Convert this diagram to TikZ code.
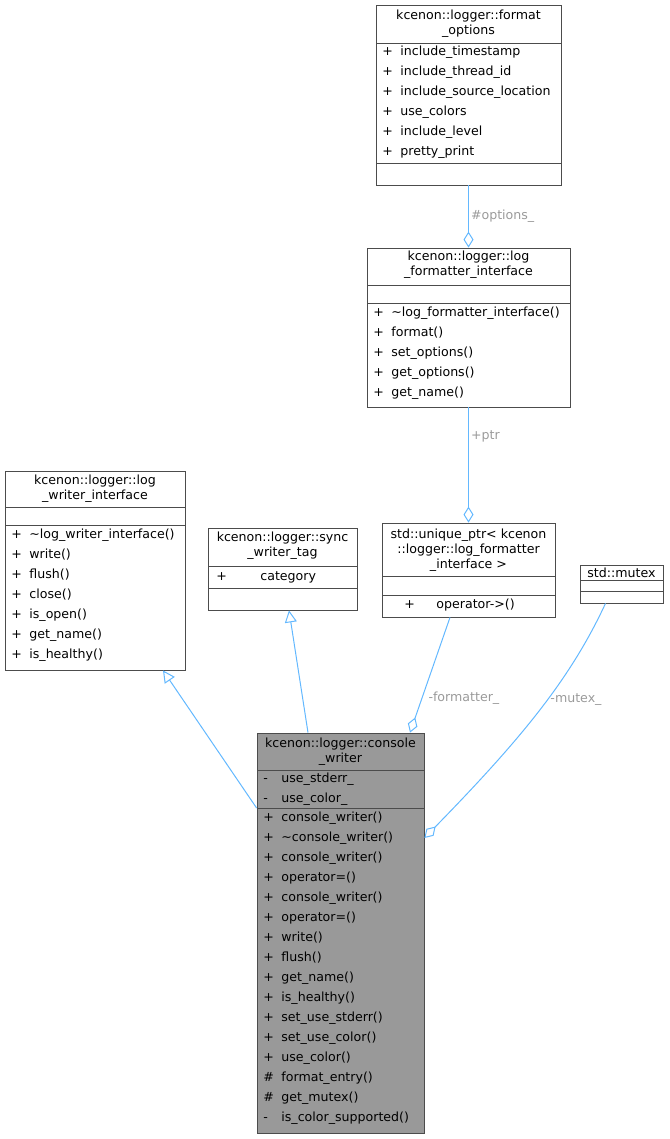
\documentclass[tikz,border=0pt]{standalone}
\usepackage{fontspec}
\setmainfont{DejaVu Sans}
\usetikzlibrary{arrows.meta}
\definecolor{edgeblue}{HTML}{63B8FF}
\definecolor{labelgray}{HTML}{9A9A9A}
\definecolor{classgray}{HTML}{999999}
\newcommand{\mbr}[2]{\makebox[9pt][l]{#1}#2}

\begin{document}
\begin{tikzpicture}[x=0.5pt,y=-0.5pt,
    font=\fontsize{6.3}{7.5}\selectfont,
    classbox/.style={rectangle, draw=black!70, line width=0.4pt, inner sep=0pt},
    title/.style={align=center, inner sep=0pt},
    member/.style={anchor=west, inner sep=0pt},
    link/.style={draw=edgeblue, line width=0.5pt},
    role/.style={text=labelgray, inner sep=1pt}]

    \useasboundingbox (0,0) rectangle (669,1139);

    % classes
    \node[classbox, minimum width=92.5pt, minimum height=90pt] (fo) at (468.5,95) {};
    \node[classbox, minimum width=101.5pt, minimum height=79.5pt] (lf) at (468.5,327.5) {};
    \node[classbox, minimum width=90pt, minimum height=99.5pt] (lw) at (95,570.5) {};
    \node[classbox, minimum width=74.5pt, minimum height=41pt] (sw) at (282.5,569) {};
    \node[classbox, minimum width=86.5pt, minimum height=47pt] (up) at (468.5,570) {};
    \node[classbox, minimum width=41.5pt, minimum height=19pt] (mx) at (621.5,584) {};
    \node[classbox, fill=classgray, minimum width=83.5pt, minimum height=200pt] (cw) at (340.5,933) {};

    % titles
    \node[title] at (468.5,24) {kcenon::logger::format\\\_options};
    \node[title] at (468.5,265) {kcenon::logger::log\\\_formatter\_interface};
    \node[title] at (95,488.5) {kcenon::logger::log\\\_writer\_interface};
    \node[title] at (282.5,545.5) {kcenon::logger::sync\\\_writer\_tag};
    \node[title] at (468.5,550) {std::unique\_ptr< kcenon\\::logger::log\_formatter\\\_interface >};
    \node[title] at (621.5,573) {std::mutex};
    \node[title] at (340.5,751.5) {kcenon::logger::console\\\_writer};

    % compartments
    \draw[black!70] (376,43) -- (561,43) (376,163) -- (561,163);
    \draw[black!70] (367,285) -- (570,285) (367,303) -- (570,303);
    \draw[black!70] (5,507) -- (185,507) (5,525) -- (185,525);
    \draw[black!70] (208,566) -- (357,566) (208,588) -- (357,588);
    \draw[black!70] (382,576) -- (555,576) (382,595) -- (555,595);
    \draw[black!70] (580,580) -- (663,580) (580,591) -- (663,591);
    \draw[black!70] (257,770) -- (424,770) (257,808) -- (424,808);

    % members
    \foreach \m [count=\i from 0] in {include\_timestamp, include\_thread\_id,
        include\_source\_location, use\_colors, include\_level, pretty\_print}
        \node[member] at (382,52+20*\i) {\mbr{+}{\m}};
    \foreach \m [count=\i from 0] in {\textasciitilde log\_formatter\_interface(),
        format(), set\_options(), get\_options(), get\_name()}
        \node[member] at (373,313+20*\i) {\mbr{+}{\m}};
    \foreach \m [count=\i from 0] in {\textasciitilde log\_writer\_interface(),
        write(), flush(), close(), is\_open(), get\_name(), is\_healthy()}
        \node[member] at (11,535+20*\i) {\mbr{+}{\m}};
    \node[member] at (216,577) {\makebox[22pt][l]{+}category};
    \node[member] at (404,605) {\makebox[16pt][l]{+}operator->()};
    \node[member] at (263,779) {\mbr{-}{use\_stderr\_}};
    \node[member] at (263,799) {\mbr{-}{use\_color\_}};
    \foreach \s/\m [count=\i from 0] in {+/console\_writer(),
        +/\textasciitilde console\_writer(), +/console\_writer(), +/operator=(),
        +/console\_writer(), +/operator=(), +/write(), +/flush(), +/get\_name(),
        +/is\_healthy(), +/set\_use\_stderr(), +/set\_use\_color(), +/use\_color(),
        \#/format\_entry(), \#/get\_mutex(), -/is\_color\_supported()}
        \node[member] at (263,818+20*\i) {\mbr{\s}{\m}};

    % associations
    \draw[link, -{Diamond[open, length=8pt, width=5pt]}] (fo.south) -- (lf.north)
        node[role, midway, right] {\#options\_};
    \draw[link, -{Diamond[open, length=8pt, width=5pt]}] (lf.south) -- (up.north)
        node[role, pos=0.25, right] {+ptr};
    \draw[link, -{Diamond[open, length=8pt, width=5pt]}] ([xshift=-9.25pt]up.south)
        -- ([xshift=34.75pt]cw.north)
        node[role, pos=0.7, right, xshift=2pt] {-formatter\_};
    \draw[link, -{Diamond[open, length=8pt, width=5pt]}] ([xshift=-8pt]mx.south)
        .. controls (570,680) and (520,740) .. ([yshift=47.5pt]cw.east);
    \node[role] at (576,700) {-mutex\_};

    % generalisations
    \draw[link, -{Triangle[open, length=6pt, width=6pt]}] ([yshift=62.5pt]cw.west)
        -- ([xshift=34pt]lw.south);
    \draw[link, -{Triangle[open, length=6pt, width=6pt]}] ([xshift=-16.25pt]cw.north)
        -- ([xshift=3.25pt]sw.south);

\end{tikzpicture}
\end{document}
